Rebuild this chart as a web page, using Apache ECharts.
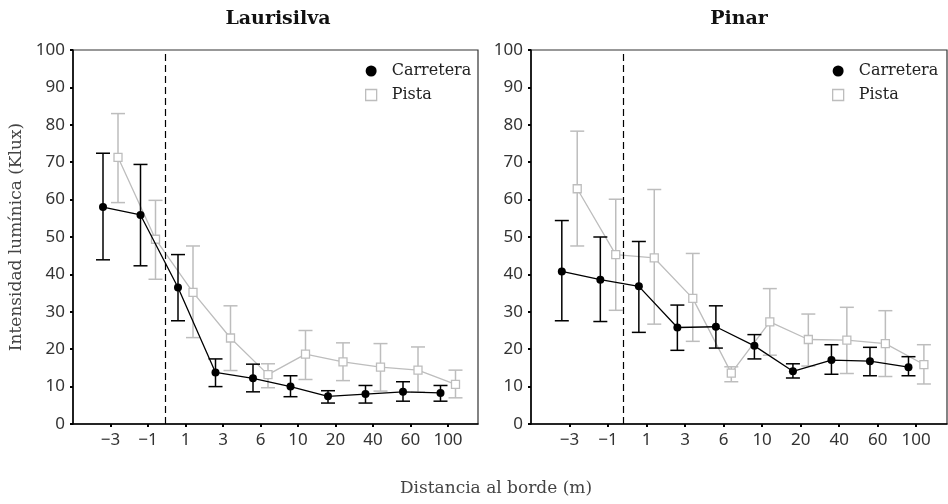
<!DOCTYPE html>
<html>
<head>
<meta charset="utf-8">
<script src="https://cdn.jsdelivr.net/npm/echarts@6/dist/echarts.min.js"></script>
<style>
  html, body { margin: 0; padding: 0; background: #fff; }
  #chart { width: 948px; height: 504px; }
</style>
</head>
<body>
<div id="chart"></div>
<script>
// distancia al borde (m)
var categories = ['\u22123', '\u22121', '1', '3', '6', '10', '20', '40', '60', '100'];
var yTicks = [0, 10, 20, 30, 40, 50, 60, 70, 80, 90, 100];

// Laurisilva
var lauCarretera = [58.0, 55.9, 36.5, 13.8, 12.2, 10.0, 7.4, 8.0, 8.6, 8.3];
var lauCarreteraLo = [43.9, 42.3, 27.6, 10.0, 8.6, 7.3, 5.6, 5.6, 6.1, 6.1];
var lauCarreteraHi = [72.4, 69.4, 45.3, 17.4, 16.0, 12.9, 8.9, 10.3, 11.3, 10.3];
var lauPista = [71.3, 49.4, 35.2, 23.0, 13.2, 18.7, 16.6, 15.2, 14.4, 10.6];
var lauPistaLo = [59.2, 38.7, 23.1, 14.3, 9.7, 11.9, 11.6, 8.8, 8.5, 7.0];
var lauPistaHi = [83.0, 59.8, 47.6, 31.6, 16.1, 25.0, 21.7, 21.5, 20.6, 14.4];

// Pinar
var pinCarretera = [40.8, 38.6, 36.8, 25.8, 26.0, 20.9, 14.1, 17.1, 16.8, 15.2];
var pinCarreteraLo = [27.6, 27.4, 24.5, 19.7, 20.3, 17.4, 12.3, 13.3, 12.9, 12.9];
var pinCarreteraHi = [54.4, 50.0, 48.8, 31.8, 31.6, 23.9, 16.1, 21.2, 20.5, 18.0];
var pinPista = [62.9, 45.3, 44.4, 33.6, 13.6, 27.3, 22.6, 22.4, 21.5, 15.9];
var pinPistaLo = [47.6, 30.4, 26.7, 22.1, 11.3, 18.4, 15.5, 13.5, 12.7, 10.7];
var pinPistaHi = [78.3, 60.1, 62.7, 45.6, 15.3, 36.2, 29.4, 31.2, 30.3, 21.2];

var BLACK = '#000';
var GREY = '#bdbdbd';
var serif = 'DejaVu Serif';
var sans = 'Noto Sans';

var chart = echarts.init(document.getElementById('chart'));

function points(vals, shift) {
  return vals.map(function (v, i) { return [i + shift, v]; });
}
function bars(lo, hi, shift) {
  return lo.map(function (v, i) { return [i + shift, v, hi[i]]; });
}

// barras de error
function errorBar(color) {
  return function (params, api) {
    var x = api.value(0);
    var top = api.coord([x, api.value(2)]);
    var bot = api.coord([x, api.value(1)]);
    var hw = 7;
    var style = { stroke: color, lineWidth: 1.5 };
    return {
      type: 'group',
      children: [
        { type: 'line', shape: { x1: top[0], y1: top[1], x2: bot[0], y2: bot[1] }, style: style },
        { type: 'line', shape: { x1: top[0] - hw, y1: top[1], x2: top[0] + hw, y2: top[1] }, style: style },
        { type: 'line', shape: { x1: bot[0] - hw, y1: bot[1], x2: bot[0] + hw, y2: bot[1] }, style: style }
      ]
    };
  };
}

function panelSeries(idx, carr, carrLo, carrHi, pista, pistaLo, pistaHi, cut) {
  return [
    {
      type: 'custom', xAxisIndex: idx, yAxisIndex: idx, silent: true,
      renderItem: errorBar(GREY), encode: { x: 0, y: [1, 2] },
      data: bars(pistaLo, pistaHi, 0.2), z: 1
    },
    {
      name: 'Pista', type: 'line', xAxisIndex: idx, yAxisIndex: idx,
      data: points(pista, 0.2), symbol: 'rect', symbolSize: 8,
      lineStyle: { color: GREY, width: 1.3 },
      itemStyle: { color: '#fff', borderColor: GREY, borderWidth: 1.3 },
      z: 2
    },
    {
      type: 'custom', xAxisIndex: idx, yAxisIndex: idx, silent: true,
      renderItem: errorBar(BLACK), encode: { x: 0, y: [1, 2] },
      data: bars(carrLo, carrHi, -0.2), z: 3
    },
    {
      name: 'Carretera', type: 'line', xAxisIndex: idx, yAxisIndex: idx,
      data: points(carr, -0.2), symbol: 'circle', symbolSize: 8,
      lineStyle: { color: BLACK, width: 1.3 },
      itemStyle: { color: BLACK },
      z: 4,
      markLine: {
        silent: true, symbol: 'none', label: { show: false },
        lineStyle: { color: BLACK, width: 1.2, type: [7, 4] },
        data: [{ xAxis: cut }]
      }
    }
  ];
}

function xAxis(idx) {
  return {
    type: 'value', gridIndex: idx, min: -1, max: 9.8, interval: 1,
    axisLine: { onZero: false, lineStyle: { color: BLACK, width: 1.5 } },
    axisTick: { length: 3, lineStyle: { color: BLACK, width: 2 } },
    splitLine: { show: false },
    axisLabel: {
      color: '#333', fontFamily: sans, fontSize: 17, margin: 8,
      showMinLabel: false, showMaxLabel: false,
      formatter: function (v) { return v >= 0 && categories[v] !== undefined ? categories[v] : ''; }
    }
  };
}

function yAxis(idx) {
  return {
    type: 'value', gridIndex: idx, min: yTicks[0], max: yTicks[yTicks.length - 1], interval: 10,
    axisLine: { show: true, onZero: false, lineStyle: { color: BLACK, width: 1.5 } },
    axisTick: { show: true, length: 3, lineStyle: { color: BLACK, width: 2 } },
    splitLine: { show: false },
    axisLabel: { color: '#333', fontFamily: sans, fontSize: 17, margin: 8 }
  };
}

function legend(left) {
  return {
    orient: 'vertical', left: left, top: 63, padding: 0, itemWidth: 11, itemHeight: 11, itemGap: 8,
    selectedMode: false,
    textStyle: { fontFamily: serif, fontSize: 16, color: '#222', padding: [0, 0, 0, 10] },
    data: [
      { name: 'Carretera', icon: 'circle', itemStyle: { color: BLACK } },
      { name: 'Pista', icon: 'rect', itemStyle: { color: '#fff', borderColor: GREY, borderWidth: 1.3 } }
    ]
  };
}

var option = {
  animation: false,
  grid: [
    { left: 73, top: 50, width: 405, height: 374, show: true, borderColor: '#333', borderWidth: 1.2 },
    { left: 531, top: 50, width: 416, height: 374, show: true, borderColor: '#333', borderWidth: 1.2 }
  ],
  xAxis: [xAxis(0), xAxis(1)],
  yAxis: [yAxis(0), yAxis(1)],
  legend: [legend(365), legend(832)],
  graphic: [
    { type: 'text', x: 278, y: 19, style: { text: 'Laurisilva', fontFamily: serif, fontWeight: 'bold', fontSize: 19, fill: '#111', align: 'center', verticalAlign: 'middle' } },
    { type: 'text', x: 739, y: 19, style: { text: 'Pinar', fontFamily: serif, fontWeight: 'bold', fontSize: 19, fill: '#111', align: 'center', verticalAlign: 'middle' } },
    { type: 'text', x: 496, y: 489, style: { text: 'Distancia al borde (m)', fontFamily: serif, fontSize: 17, fill: '#444', align: 'center', verticalAlign: 'middle' } },
    { type: 'text', x: 17, y: 237, rotation: Math.PI / 2, style: { text: 'Intensidad lumínica (Klux)', fontFamily: serif, fontSize: 17, fill: '#444', align: 'center', verticalAlign: 'middle' } }
  ],
  series: panelSeries(0, lauCarretera, lauCarreteraLo, lauCarreteraHi, lauPista, lauPistaLo, lauPistaHi, 1.45)
    .concat(panelSeries(1, pinCarretera, pinCarreteraLo, pinCarreteraHi, pinPista, pinPistaLo, pinPistaHi, 1.4))
};

chart.setOption(option);
</script>
</body>
</html>
